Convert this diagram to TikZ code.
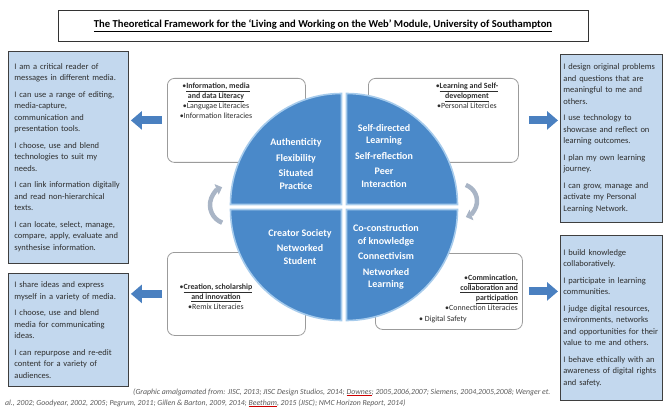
\documentclass[tikz,border=0pt]{standalone}
\usepackage{fontspec}
\setmainfont{Carlito}
\usepackage{tikz}
\usetikzlibrary{positioning,arrows.meta}

\definecolor{boxblue}{HTML}{C3D8EE}
\definecolor{boxedge}{HTML}{3F3F3F}
\definecolor{arrowblue}{HTML}{4A80C0}
\definecolor{quadfill}{HTML}{4A89C9}
\definecolor{quadrim}{HTML}{A6CBEC}
\definecolor{turngrey}{HTML}{A9B5C6}
\definecolor{frameedge}{HTML}{9B9B9B}
\definecolor{inktext}{HTML}{2E2E2E}

\newcommand{\spellmark}[1]{{\color{red!80!black}\underline{\color{black!65}#1}}}

\begin{document}
\begin{tikzpicture}[
x=1pt, y=-1pt,
skill/.style={
  draw=boxedge,
  fill=boxblue,
  line width=0.9pt,
  anchor=north west,
  align=left,
  inner xsep=6pt,
  text=inktext,
  font=\fontsize{8.5}{11.5}\selectfont
  },
litbox/.style={
  draw=frameedge,
  fill=white,
  rounded corners=7pt,
  line width=0.8pt,
  anchor=north west
  },
littext/.style={
  align=center,
  anchor=north,
  inner sep=0pt,
  text=inktext,
  font=\fontsize{7.9}{10}\selectfont
  },
sector/.style={
  fill=quadfill,
  draw=quadrim,
  line width=1.6pt
  },
ideatext/.style={
  align=center,
  text=white,
  font=\fontsize{10}{12.5}\selectfont\bfseries
  },
blockarrow/.style={
  draw=arrowblue,
  line width=8pt,
  -{Triangle[length=11pt,width=18pt]}
  },
spin/.style={
  draw=turngrey,
  line width=4.5pt,
  -{Triangle[length=6pt,width=11pt]}
  },
cite/.style={
  inner sep=0pt,
  text=black!65,
  font=\fontsize{7.8}{9}\selectfont\itshape
  }
]
\useasboundingbox (0,0) rectangle (665,412);

% literacy boxes behind the wheel
\node[litbox, minimum width=138, minimum height=84] (litTL) at (167,78) {};
\node[litbox, minimum width=150, minimum height=84] (litTR) at (368,78) {};
\node[litbox, minimum width=138, minimum height=83] (litBL) at (167,252) {};
\node[litbox, minimum width=147, minimum height=76] (litBR) at (375,253) {};

\node[littext] (litTLtxt) at (216,83) {•\underline{\textbf{Information, media}}\\
  \underline{\textbf{and data Literacy}}\\•Langugae Literacies\\•Information literacies};
\node[littext] (litTRtxt) at (467,83) {•\underline{\textbf{Learning and Self-}}\\
  \underline{\textbf{development}}\\•Personal Litercies};
\node[littext] (litBLtxt) at (216,284) {•\underline{\textbf{Creation, scholarship}}\\
  \underline{\textbf{and innovation}}\\•Remix Literacies};
\node[littext, align=right, anchor=north east] (litBRtxt) at (518,275) {•\underline{\textbf{Commincation,}}\\
  \underline{\textbf{collaboration and}}\\\underline{\textbf{participation}}\\•Connection Literacies};
\node[littext, anchor=north west] (litBRsafe) at (419,316) {• Digital Safety};

% the wheel
\coordinate (hub) at (344,207);
\foreach \a/\dx/\dy in {180/-2.5/-2.5, 270/2.5/-2.5, 0/2.5/2.5, 90/-2.5/2.5}
  \filldraw[sector] ([shift={(\dx,\dy)}]hub) -- ++(\a:111)
    arc[start angle=\a, delta angle=90, radius=111] -- cycle;

\node[ideatext] (ideaTL) at (296,164) {Authenticity\\[3pt]Flexibility\\[3pt]Situated\\Practice};
\node[ideatext] (ideaTR) at (384,156) {Self-directed\\Learning\\[3pt]Self-reflection\\[3pt]Peer\\Interaction};
\node[ideatext] (ideaBL) at (300,247) {Creator Society\\[3pt]Networked\\Student};
\node[ideatext] (ideaBR) at (386,257) {Co-construction\\of knowledge\\[3pt]Connectivism\\[3pt]Networked\\Learning};

\draw[spin] (229,205) ++(111:19) arc[start angle=111, end angle=249, radius=19];
\draw[spin] (460,201) ++(-70:17) arc[start angle=-70, end angle=70, radius=17];

% skill boxes
\node[skill, minimum width=120, minimum height=212, text width=108] (skillTL) at (8,51) {%
I am a critical reader of\\
messages in different media.\\[5pt]
I can use a range of editing,\\
media-capture,\\
communication and\\
presentation tools.\\[5pt]
I choose, use and blend\\
technologies to suit my\\
needs.\\[5pt]
I can link information digitally\\
and read non-hierarchical\\
texts.\\[5pt]
I can locate, select, manage,\\
compare, apply, evaluate and\\
synthesise information.};
\node[skill, minimum width=120, minimum height=113, text width=108] (skillBL) at (8,273) {%
I share ideas and express\\
myself in a variety of media.\\[5pt]
I choose, use and blend\\
media for communicating\\
ideas.\\[5pt]
I can repurpose and re-edit\\
content for a variety of\\
audiences.};
\node[skill, minimum width=102, minimum height=168, text width=96, inner xsep=3pt] (skillTR) at (560,54) {%
I design original problems\\
and questions that are\\
meaningful to me and\\
others.\\[5pt]
I use technology to\\
showcase and reflect on\\
learning outcomes.\\[5pt]
I plan my own learning\\
journey.\\[5pt]
I can grow, manage and\\
activate my Personal\\
Learning Network.};
\node[skill, minimum width=102, minimum height=165, text width=96, inner xsep=3pt] (skillBR) at (560,235) {%
I build knowledge\\
collaboratively.\\[5pt]
I participate in learning\\
communities.\\[5pt]
I judge digital resources,\\
environments, networks\\
and opportunities for their\\
value to me and others.\\[5pt]
I behave ethically with an\\
awareness of digital rights\\
and safety.};

\draw[blockarrow, shorten <=5pt, shorten >=2pt] (litTL.west) -- (litTL.west -| skillTL.east);
\draw[blockarrow, shorten <=5pt, shorten >=2pt] (litBL.west) -- (litBL.west -| skillBL.east);
\draw[blockarrow, shorten <=10pt, shorten >=2pt] (litTR.east) -- (litTR.east -| skillTR.west);
\draw[blockarrow, shorten <=6pt, shorten >=2pt] (litBR.east) -- (litBR.east -| skillBR.west);

% title and sources
\node[draw=black!80, line width=0.8pt, minimum width=530, minimum height=31,
  font=\fontsize{10.6}{12}\selectfont\bfseries] (title) at (323,25.5)
  {\underline{The Theoretical Framework for the ‘Living and Working on the Web’ Module, University of Southampton}};
\node[cite, anchor=base west] (citeA) at (133,394) {(Graphic amalgamated from: JISC, 2013; JISC Design Studios, 2014; \spellmark{Downes}; 2005,2006,2007; Siemens, 2004,2005,2008; Wenger et.};
\node[cite, anchor=base west] (citeB) at (5,405) {al., 2002; Goodyear, 2002, 2005; Pegrum, 2011; Gillen \& Barton, 2009, 2014; \spellmark{Beetham}, 2015 (JISC); NMC Horizon Report, 2014)};
\end{tikzpicture}
\end{document}
